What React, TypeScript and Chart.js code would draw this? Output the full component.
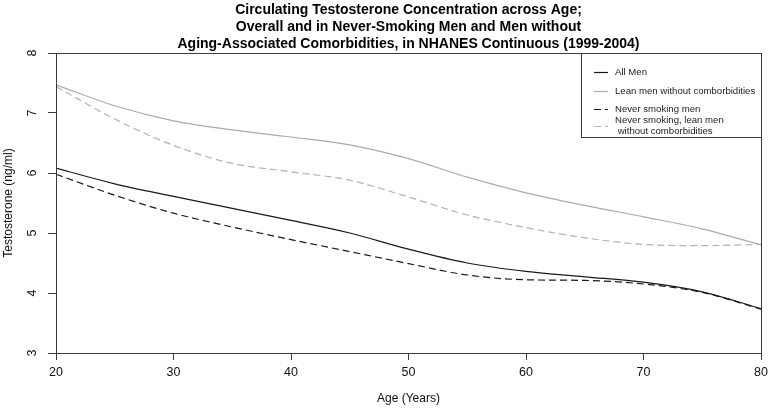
import React, { useEffect, useRef } from "react";
import { Chart, registerables } from "chart.js";

Chart.register(...registerables);

const ages = [20, 25, 30, 35, 40, 45, 50, 55, 60, 65, 70, 75, 80];
const allMen = [6.08, 5.82, 5.61, 5.41, 5.21, 5.0, 4.73, 4.5, 4.36, 4.27, 4.18, 4.02, 3.74];
const leanMen = [7.47, 7.12, 6.87, 6.72, 6.6, 6.47, 6.24, 5.93, 5.67, 5.46, 5.27, 5.07, 4.8];
const neverSmoking = [5.98, 5.63, 5.33, 5.1, 4.89, 4.69, 4.49, 4.3, 4.22, 4.21, 4.15, 4.01, 3.73];
const neverSmokingLean = [7.44, 6.9, 6.46, 6.16, 6.02, 5.88, 5.6, 5.3, 5.09, 4.92, 4.81, 4.79, 4.81];

const xTicks = [20, 30, 40, 50, 60, 70, 80];
const yTicks = [3, 4, 5, 6, 7, 8];

const titleLines = [
  "Circulating Testosterone Concentration across Age;",
  "Overall and in Never-Smoking Men and Men without",
  "Aging-Associated Comorbidities, in NHANES Continuous (1999-2004)",
];
const xTitle = "Age (Years)";
const yTitle = "Testosterone (ng/ml)";

const FONT = '"Liberation Sans", Arial, sans-serif';
const AXIS = "#3a3a3a";

const overlayPlugin = {
  id: "overlay",
  afterDraw(chart: any) {
    const ctx = chart.ctx as CanvasRenderingContext2D;
    const ca = chart.chartArea;
    const xs = chart.scales.x;
    const ys = chart.scales.y;
    ctx.save();
    // box
    ctx.strokeStyle = AXIS;
    ctx.lineWidth = 1;
    ctx.strokeRect(Math.round(ca.left) + 0.5, Math.round(ca.top) + 0.5, Math.round(ca.right - ca.left), Math.round(ca.bottom - ca.top));

    // title
    ctx.fillStyle = "#000";
    ctx.font = `bold 14px ${FONT}`;
    ctx.textAlign = "center";
    ctx.textBaseline = "middle";
    const cx = (ca.left + ca.right) / 2;
    titleLines.forEach((t, i) => ctx.fillText(t, cx, 10 + i * 17));

    // tick labels
    ctx.font = `12.5px ${FONT}`;
    ctx.fillStyle = "#111";
    xTicks.forEach((v) => {
      ctx.fillText(String(v), xs.getPixelForValue(v), 373);
    });
    yTicks.forEach((v) => {
      ctx.save();
      ctx.translate(33, ys.getPixelForValue(v));
      ctx.rotate(-Math.PI / 2);
      ctx.fillText(String(v), 0, 0);
      ctx.restore();
    });

    // axis titles
    ctx.font = `12px ${FONT}`;
    ctx.fillText(xTitle, cx, 399);
    ctx.save();
    ctx.translate(9, (ca.top + ca.bottom) / 2);
    ctx.rotate(-Math.PI / 2);
    ctx.fillText(yTitle, 0, 0);
    ctx.restore();

    // legend
    const lx = 581, ly = Math.round(ca.top) + 0.5, lw = Math.round(ca.right) - 581, lh = 84;
    ctx.fillStyle = "#fff";
    ctx.fillRect(lx + 0.5, ly, lw, lh);
    ctx.strokeStyle = AXIS;
    ctx.strokeRect(lx + 0.5, ly, lw, lh);
    const rows = [72, 91, 109, 126];
    ctx.font = `9.6px ${FONT}`;
    ctx.textAlign = "left";
    chart.data.datasets.forEach((ds: any, i: number) => {
      const y = rows[i];
      ctx.save();
      ctx.strokeStyle = ds.borderColor;
      ctx.lineWidth = ds.borderWidth;
      ctx.setLineDash(ds.borderDash || []);
      ctx.beginPath();
      ctx.moveTo(594, y + 0.5);
      ctx.lineTo(608, y + 0.5);
      ctx.stroke();
      ctx.restore();
      ctx.fillStyle = "#222";
      const lines = String(ds.label).split("\n");
      if (lines.length === 1) {
        ctx.fillText(lines[0], 615, y);
      } else {
        lines.forEach((l, j) => ctx.fillText(l, 615, y - 5.5 + j * 11));
      }
    });
    ctx.restore();
  },
};

export default function App() {
  const ref = useRef<HTMLCanvasElement | null>(null);
  useEffect(() => {
    if (!ref.current) return;
    const mk = (label: string, data: number[], color: string, dash: number[]) => ({
      label,
      data: ages.map((a, i) => ({ x: a, y: data[i] })),
      borderColor: color,
      borderWidth: 1.2,
      borderDash: dash,
      pointRadius: 0,
      fill: false,
      cubicInterpolationMode: "monotone" as const,
    });
    const chart = new Chart(ref.current, {
      type: "line",
      data: {
        datasets: [
          mk("All Men", allMen, "#1a1a1a", []),
          mk("Lean men without comborbidities", leanMen, "#ababab", []),
          mk("Never smoking men", neverSmoking, "#1a1a1a", [7, 4]),
          mk("Never smoking, lean men\n without comborbidities", neverSmokingLean, "#b3b3b3", [7, 4]),
        ],
      },
      options: {
        animation: false,
        responsive: false,
        devicePixelRatio: 1,
        layout: { padding: { left: 0, top: 53, right: 7, bottom: 0 } },
        plugins: { legend: { display: false }, title: { display: false }, tooltip: { enabled: false } },
        scales: {
          x: {
            type: "linear",
            min: 20,
            max: 80,
            ticks: { display: false, stepSize: 10 },
            grid: { drawOnChartArea: false, drawTicks: true, tickLength: 7, color: AXIS },
            border: { display: true, color: AXIS },
            afterFit: (s: any) => { s.height = 59; },
          },
          y: {
            min: 3,
            max: 8,
            ticks: { display: false, stepSize: 1 },
            grid: { drawOnChartArea: false, drawTicks: true, tickLength: 8, color: AXIS },
            border: { display: true, color: AXIS },
            afterFit: (s: any) => { s.width = 56; },
          },
        },
      },
      plugins: [overlayPlugin],
    });
    return () => chart.destroy();
  }, []);
  return (
    <div style={{ position: "fixed", left: 0, top: 0, width: 768, height: 412, background: "#fff" }}>
      <canvas ref={ref} width={768} height={412} style={{ display: "block", width: 768, height: 412 }} />
    </div>
  );
}
